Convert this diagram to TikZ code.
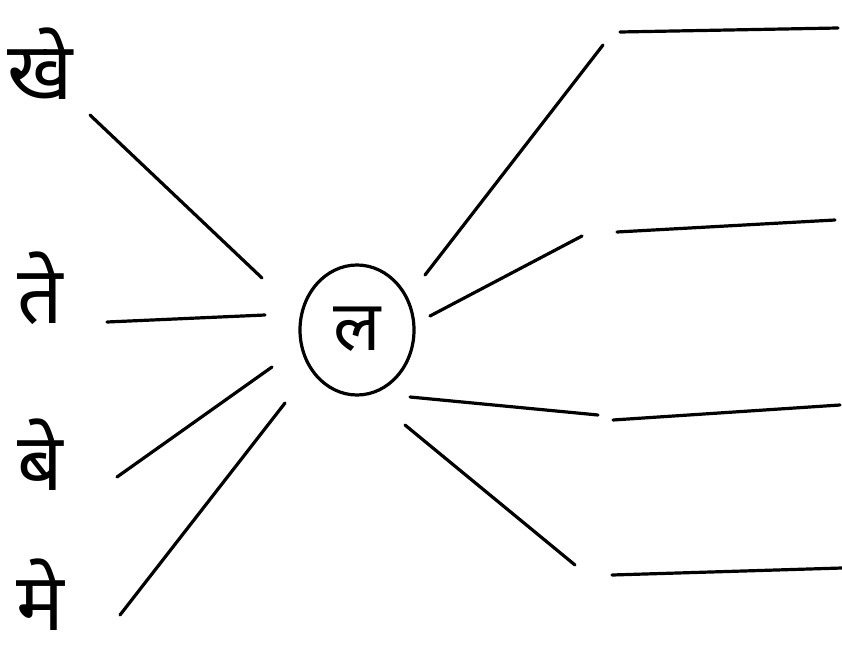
\documentclass[tikz,border=0pt]{standalone}
\usepackage{fontspec}
\newfontfamily\deva[Script=Devanagari]{Noto Sans}
\usetikzlibrary{shapes.geometric}
\begin{document}
\begin{tikzpicture}[x=1pt,y=-1pt,
  letter/.style={font=\deva\fontsize{80}{84}\selectfont, inner sep=0pt, anchor=base, text depth=0pt},
  ray/.style={line width=3.2pt, line cap=round},
  blank/.style={line width=3.2pt, line cap=round}]
\useasboundingbox (0,0) rectangle (842,660);
\fill[white] (0,0) rectangle (842,660);
% left letters
\node[letter] (khe) at (40,100) {खे};
\node[letter] (te) at (40,323) {ते};
\node[letter] (be) at (40,490) {बे};
\node[letter] (me) at (40,630) {मे};
% centre
\node[ellipse, draw, line width=3.2pt, minimum width=114pt, minimum height=130pt] (c) at (357,330) {};
\node[letter, font=\deva\fontsize{70}{74}\selectfont] (la) at (357,350) {ल};
% ray ends
\coordinate (l1a) at (90,115);  \coordinate (l1b) at (262,278);
\coordinate (l2a) at (107,322); \coordinate (l2b) at (265,315);
\coordinate (l3a) at (117,477); \coordinate (l3b) at (272,367);
\coordinate (l4a) at (120,615); \coordinate (l4b) at (285,403);
\coordinate (r1a) at (425,275); \coordinate (r1b) at (603,45);
\coordinate (r2a) at (430,316); \coordinate (r2b) at (582,236);
\coordinate (r3a) at (410,397); \coordinate (r3b) at (598,415);
\coordinate (r4a) at (405,425); \coordinate (r4b) at (575,565);
\coordinate (b1a) at (620,32);  \coordinate (b1b) at (838,28);
\coordinate (b2a) at (617,232); \coordinate (b2b) at (835,220);
\coordinate (b3a) at (613,420); \coordinate (b3b) at (840,405);
\coordinate (b4a) at (612,575); \coordinate (b4b) at (842,568);
\draw[ray] (l1a) -- (l1b);
\draw[ray] (l2a) -- (l2b);
\draw[ray] (l3a) -- (l3b);
\draw[ray] (l4a) -- (l4b);
\draw[ray] (r1a) -- (r1b);
\draw[ray] (r2a) -- (r2b);
\draw[ray] (r3a) -- (r3b);
\draw[ray] (r4a) -- (r4b);
\draw[blank] (b1a) -- (b1b);
\draw[blank] (b2a) -- (b2b);
\draw[blank] (b3a) -- (b3b);
\draw[blank] (b4a) -- (b4b);
\end{tikzpicture}
\end{document}
